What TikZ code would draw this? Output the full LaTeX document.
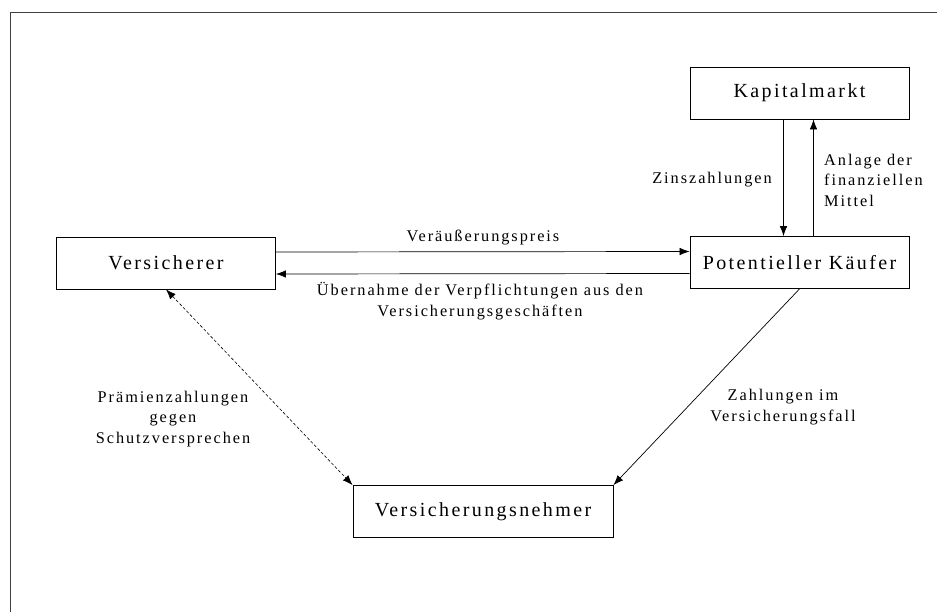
\documentclass[tikz,border=0pt]{standalone}
\usepackage{fontspec}
\setmainfont{Liberation Serif}[LetterSpace=12]
\usepackage{tikz}
\usetikzlibrary{arrows.meta}

\begin{document}
\begin{tikzpicture}
        [%%%%%%%%%%%%%%%%%%%%%%%%%%%%%%
        x=1pt, y=-1pt,
        box/.style={draw, line width=0.8pt, minimum height=52pt, inner sep=0pt,
          font=\fontsize{20}{22}\selectfont},
        lbl/.style={align=center, inner sep=0pt, font=\fontsize{16.3}{20.5}\selectfont},
        tip/.style={Latex[length=10pt,width=7.5pt]},
        flow/.style={line width=0.7pt, -{Latex[length=10pt,width=7.5pt]}},
        ]%%%%%%%%%%%%%%%%%%%%%%%%%%%%%%
        \useasboundingbox (0,0) rectangle (937,612);
        % Frame
        \draw[line width=0.9pt, black!75] (10,612) -- (10,12.3) -- (937,12.3);
        % Boxes
        \node[box, minimum width=219pt] (kapital) at (799.5,93) {Kapitalmarkt};
        \node[box, minimum width=219pt] (kaeufer) at (799.5,262.5) {Potentieller Käufer};
        \node[box, minimum width=219pt] (versicherer) at (166,263) {Versicherer};
        \node[box, minimum width=260pt] (nehmer) at (483,511.5) {Versicherungsnehmer};
        % Arrows
        \draw[flow] ([yshift=11pt]versicherer.east) -- ([yshift=11pt]kaeufer.west);
        \draw[flow] ([yshift=-11pt]kaeufer.west) -- ([yshift=-11pt]versicherer.east);
        \draw[flow] ([xshift=-16pt]kapital.south) -- ([xshift=-16pt]kaeufer.north);
        \draw[flow] ([xshift=14pt]kaeufer.north) -- ([xshift=14pt]kapital.south);
        \draw[flow] (kaeufer.south) -- (nehmer.north east);
        \draw[line width=0.6pt, densely dashed, {Latex[length=10pt,width=7.5pt]}-{Latex[length=10pt,width=7.5pt]}]
          (versicherer.south) -- (nehmer.north west);
        % Text
        \node[lbl] (preis) at (483,238) {Veräußerungspreis};
        \node[lbl] (uebernahme) at (480,301) {Übernahme der Verpflichtungen aus den\\Versicherungsgeschäften};
        \node[lbl] (zins) at (712,180) {Zinszahlungen};
        \node[lbl, align=left, anchor=west] (anlage) at (824,180) {Anlage der\\finanziellen\\Mittel};
        \node[lbl] (praemie) at (173,419) {Prämienzahlungen\\gegen\\Schutzversprechen};
        \node[lbl] (zahlung) at (783,407) {Zahlungen im\\Versicherungsfall};
\end{tikzpicture}
\end{document}
